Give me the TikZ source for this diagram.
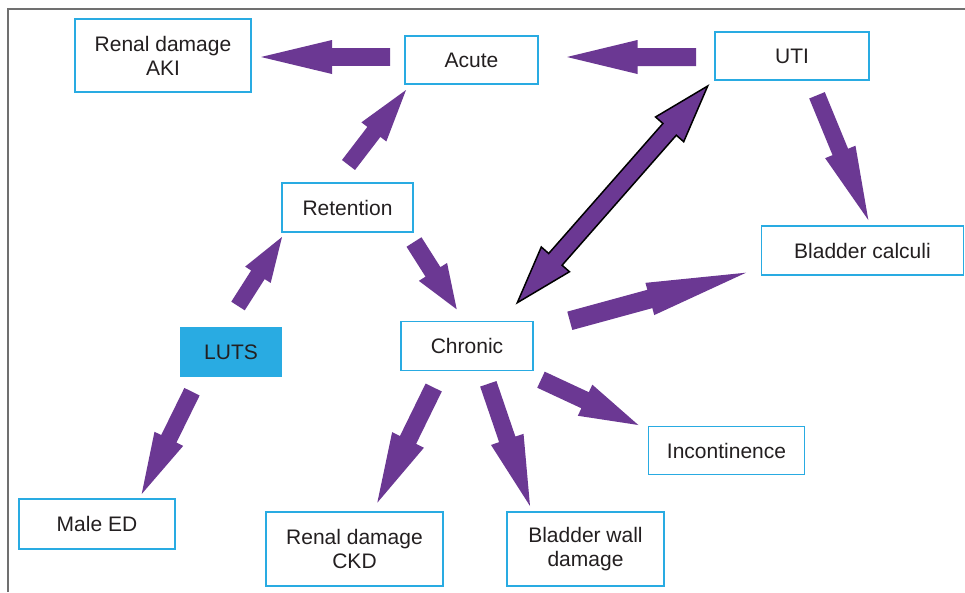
\documentclass[tikz,border=0pt]{standalone}
\usepackage{fontspec}
\setmainfont{Liberation Sans}
\usetikzlibrary{calc}
\definecolor{boxblue}{HTML}{29ABE2}
\definecolor{arrowpurple}{HTML}{6B3893}
\definecolor{txtcol}{HTML}{231F20}
\definecolor{framegray}{HTML}{707070}

% single fat arrow: tail, tip, shaft width, head width, head length
\newcommand\fatarrow[5]{%
  \pgfmathsetlengthmacro\fas{#3/2*1pt}%
  \pgfmathsetlengthmacro\fah{#4/2*1pt}%
  \pgfmathsetlengthmacro\fal{#5*1pt}%
  \coordinate (fa-m) at ($(#2)!\fal!(#1)$);
  \fill[arrowpurple] ($(#1)!\fas!90:(#2)$) -- ($(fa-m)!\fas!90:(#2)$)
    -- ($(fa-m)!\fah!90:(#2)$) -- (#2) -- ($(fa-m)!\fah!-90:(#2)$)
    -- ($(fa-m)!\fas!-90:(#2)$) -- ($(#1)!\fas!-90:(#2)$) -- cycle;
}
% double fat arrow with outline: tip a, tip b, shaft width, head width, head length
\newcommand\dblfatarrow[5]{%
  \pgfmathsetlengthmacro\fas{#3/2*1pt}%
  \pgfmathsetlengthmacro\fah{#4/2*1pt}%
  \pgfmathsetlengthmacro\fal{#5*1pt}%
  \coordinate (da-m1) at ($(#1)!\fal!(#2)$);
  \coordinate (da-m2) at ($(#2)!\fal!(#1)$);
  \filldraw[fill=arrowpurple, draw=black, line width=1.5pt, line join=miter]
    (#1) -- ($(da-m1)!\fah!90:(#2)$) -- ($(da-m1)!\fas!90:(#2)$)
    -- ($(da-m2)!\fas!90:(#2)$) -- ($(da-m2)!\fah!90:(#2)$) -- (#2)
    -- ($(da-m2)!\fah!-90:(#2)$) -- ($(da-m2)!\fas!-90:(#2)$)
    -- ($(da-m1)!\fas!-90:(#2)$) -- ($(da-m1)!\fah!-90:(#2)$) -- cycle;
}

\begin{document}
\begin{tikzpicture}[x=1pt, y=-1pt,
  box/.style={draw=boxblue, line width=1.8pt, fill=white, text=txtcol,
    align=center, inner sep=0pt, font=\fontsize{21}{24}\selectfont},
  filledbox/.style={box, fill=boxblue, draw=boxblue}]
\useasboundingbox (0,0) rectangle (965,592);
\fill[white] (0,0) rectangle (965,592);
\draw[framegray, line width=1.2pt] (8,592) -- (8,9) -- (965,9);

% nodes
\node[box, minimum width=176pt, minimum height=73pt] (aki) at (163,55.5) {Renal damage\\AKI};
\node[box, minimum width=133pt, minimum height=48pt] (acute) at (471.5,60) {Acute};
\node[box, minimum width=154pt, minimum height=48pt] (uti) at (792,56) {UTI};
\node[box, minimum width=131pt, minimum height=49pt] (retention) at (347.5,207.5) {Retention};
\node[box, minimum width=202pt, minimum height=49pt] (calculi) at (862.5,250.5) {Bladder calculi};
\node[filledbox, minimum width=100pt, minimum height=48pt] (luts) at (231,352) {LUTS};
\node[box, minimum width=132pt, minimum height=49pt] (chronic) at (467,346) {Chronic};
\node[box, minimum width=156pt, minimum height=48pt] (incont) at (726.5,450.5) {Incontinence};
\node[box, minimum width=156pt, minimum height=50pt] (maleed) at (97,524) {Male ED};
\node[box, minimum width=177pt, minimum height=74pt] (ckd) at (354.5,549) {Renal damage\\CKD};
\node[box, minimum width=157pt, minimum height=74pt] (wall) at (585.5,549) {Bladder wall\\damage};

% arrow end points
\coordinate (a1t) at (390,57);      \coordinate (a1h) at (261,57);
\coordinate (a2t) at (696,57);      \coordinate (a2h) at (567,57);
\coordinate (a3t) at (348.5,165);   \coordinate (a3h) at (406,90);
\coordinate (a4t) at (238,306);     \coordinate (a4h) at (282,237);
\coordinate (a5t) at (414,242);     \coordinate (a5h) at (456.7,309.3);
\coordinate (a6t) at (817,95.3);    \coordinate (a6h) at (868.3,220);
\coordinate (a7t) at (569.8,320.8); \coordinate (a7h) at (746,272.7);
\coordinate (a8t) at (541,379.7);   \coordinate (a8h) at (638.3,425);
\coordinate (a9t) at (192,391.7);   \coordinate (a9h) at (141.7,494);
\coordinate (a10t) at (433.7,387.5);\coordinate (a10h) at (377.3,502.7);
\coordinate (a11t) at (488.3,383.8);\coordinate (a11h) at (530,506);
\coordinate (d1) at (517.3,302.7);  \coordinate (d2) at (707.7,86);

% arrows
\fatarrow{a1t}{a1h}{17.6}{34}{71}
\fatarrow{a2t}{a2h}{18}{34}{70.5}
\fatarrow{a3t}{a3h}{16.4}{31.4}{52.8}
\fatarrow{a4t}{a4h}{16}{30.3}{44.8}
\fatarrow{a5t}{a5h}{17.7}{33.4}{44.3}
\fatarrow{a6t}{a6h}{16.8}{32.8}{73.6}
\fatarrow{a7t}{a7h}{19}{33.4}{99.7}
\fatarrow{a8t}{a8h}{17.7}{34.3}{58.7}
\fatarrow{a9t}{a9h}{17}{32}{61.5}
\fatarrow{a10t}{a10h}{18}{35.4}{69.9}
\fatarrow{a11t}{a11h}{17.2}{34.4}{70.4}
\dblfatarrow{d1}{d2}{17.8}{37.5}{57.7}
\end{tikzpicture}
\end{document}
